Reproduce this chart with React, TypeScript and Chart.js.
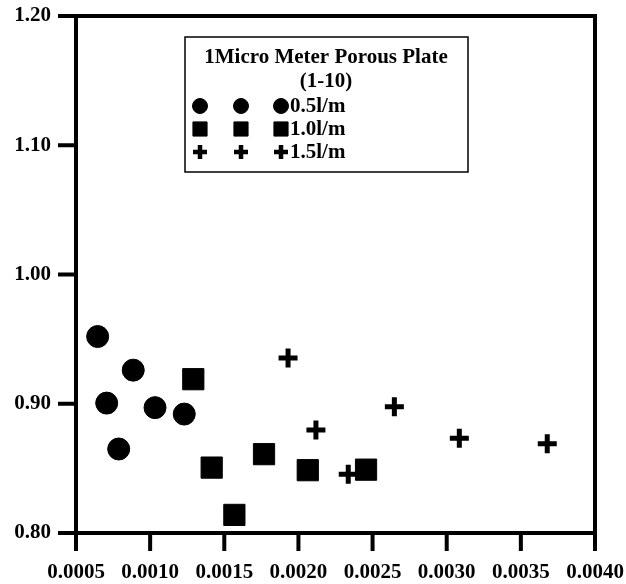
import React, { useEffect, useRef } from "react";
import { Chart, registerables } from "chart.js";
import { drawPoint } from "chart.js/helpers";

Chart.register(...registerables);

const xTicks = [0.0005, 0.001, 0.0015, 0.002, 0.0025, 0.003, 0.0035, 0.004];
const yTicks = [0.8, 0.9, 1.0, 1.1, 1.2];

const s05x = [0.000646, 0.000886, 0.000707, 0.001033, 0.00123, 0.000788];
const s05y = [0.952, 0.926, 0.9005, 0.897, 0.892, 0.865];

const s10x = [0.001291, 0.001415, 0.001768, 0.001568, 0.002063, 0.002456];
const s10y = [0.919, 0.8506, 0.861, 0.814, 0.8486, 0.849];

const s15x = [0.00193, 0.002118, 0.002336, 0.002647, 0.003085, 0.003678];
const s15y = [0.9354, 0.8796, 0.8455, 0.8977, 0.8734, 0.869];

const legendTitle = ["1Micro Meter Porous Plate", "(1-10)"];
const seriesLabels = ["0.5l/m", "1.0l/m", "1.5l/m"];

const FONT = "'Liberation Serif', 'Times New Roman', serif";

const pts = (xs: number[], ys: number[]) => xs.map((x, i) => ({ x, y: ys[i] }));

const framePlugin = {
  id: "frame",
  afterDatasetsDraw(chart: any) {
    const { ctx, chartArea: a, scales } = chart;
    ctx.save();
    ctx.strokeStyle = "#000";
    ctx.lineWidth = 4;
    ctx.lineCap = "butt";
    ctx.strokeRect(a.left, a.top, a.right - a.left, a.bottom - a.top);
    ctx.beginPath();
    yTicks.forEach((v) => {
      const py = scales.y.getPixelForValue(v);
      ctx.moveTo(a.left - 18, py);
      ctx.lineTo(a.left, py);
    });
    xTicks.forEach((v) => {
      const px = scales.x.getPixelForValue(v);
      ctx.moveTo(px, a.bottom);
      ctx.lineTo(px, a.bottom + 18);
    });
    ctx.stroke();
    ctx.restore();
  },
};

const legendPlugin = {
  id: "customLegend",
  afterDraw(chart: any) {
    const { ctx } = chart;
    ctx.save();
    ctx.strokeStyle = "#000";
    ctx.lineWidth = 1.5;
    ctx.strokeRect(185, 37, 283, 135);
    ctx.fillStyle = "#000";
    ctx.font = `bold 21px ${FONT}`;
    ctx.textAlign = "center";
    ctx.textBaseline = "middle";
    ctx.fillText(legendTitle[0], 326, 58);
    ctx.fillText(legendTitle[1], 326, 82);
    const styles = [
      { pointStyle: "circle", radius: 7.5, borderWidth: 1 },
      { pointStyle: "rect", radius: 10, borderWidth: 1 },
      { pointStyle: "cross", radius: 7, borderWidth: 4.5 },
    ];
    const rowsY = [106, 129, 152];
    const markX = [200, 241, 281];
    styles.forEach((st, r) => {
      ctx.fillStyle = "#000";
      ctx.strokeStyle = "#000";
      ctx.lineWidth = st.borderWidth;
      markX.forEach((mx) => {
        drawPoint(ctx, { ...st, rotation: 0 } as any, mx, rowsY[r]);
      });
      ctx.font = `bold 21px ${FONT}`;
      ctx.textAlign = "left";
      ctx.fillStyle = "#000";
      ctx.fillText(seriesLabels[r], 290, rowsY[r] + 1);
    });
    ctx.restore();
  },
};

export default function App() {
  const ref = useRef<HTMLCanvasElement | null>(null);
  useEffect(() => {
    if (!ref.current) return;
    const tickFont = { family: FONT, size: 21, weight: "bold" as const };
    const chart = new Chart(ref.current, {
      type: "scatter",
      data: {
        datasets: [
          {
            label: seriesLabels[0],
            data: pts(s05x, s05y),
            pointStyle: "circle",
            pointRadius: 11,
            backgroundColor: "#000",
            borderColor: "#000",
            borderWidth: 1,
          },
          {
            label: seriesLabels[1],
            data: pts(s10x, s10y),
            pointStyle: "rect",
            pointRadius: 15,
            backgroundColor: "#000",
            borderColor: "#000",
            borderWidth: 1,
          },
          {
            label: seriesLabels[2],
            data: pts(s15x, s15y),
            pointStyle: "cross",
            pointRadius: 9.5,
            backgroundColor: "#000",
            borderColor: "#000",
            borderWidth: 5,
          },
        ],
      },
      options: {
        animation: false,
        responsive: true,
        maintainAspectRatio: false,
        layout: { padding: { top: 16, right: 31, left: 0, bottom: 0 } },
        plugins: { legend: { display: false }, tooltip: { enabled: false } },
        scales: {
          x: {
            type: "linear",
            min: 0.0005,
            max: 0.004,
            afterBuildTicks: (axis: any) => {
              axis.ticks = xTicks.map((v) => ({ value: v }));
            },
            afterFit: (axis: any) => {
              axis.height = 51;
              axis.paddingLeft = 0;
              axis.paddingRight = 0;
            },
            ticks: {
              color: "#000",
              font: tickFont,
              padding: 9,
              maxRotation: 0,
              autoSkip: false,
              callback: (v: any) => Number(v).toFixed(4),
            },
            grid: { display: false, drawOnChartArea: false, tickLength: 18 },
            border: { display: false },
          },
          y: {
            type: "linear",
            min: 0.8,
            max: 1.2,
            afterBuildTicks: (axis: any) => {
              axis.ticks = yTicks.map((v) => ({ value: v }));
            },
            afterFit: (axis: any) => {
              axis.width = 76;
              axis.paddingTop = 0;
              axis.paddingBottom = 0;
            },
            ticks: {
              color: "#000",
              font: tickFont,
              padding: 7,
              autoSkip: false,
              callback: (v: any) => Number(v).toFixed(2),
            },
            grid: { display: false, drawOnChartArea: false, tickLength: 18 },
            border: { display: false },
          },
        },
      },
      plugins: [framePlugin, legendPlugin],
    } as any);
    return () => chart.destroy();
  }, []);
  return (
    <div style={{ position: "fixed", left: 0, top: 0, width: 626, height: 584, background: "#fff" }}>
      <canvas ref={ref} />
    </div>
  );
}
